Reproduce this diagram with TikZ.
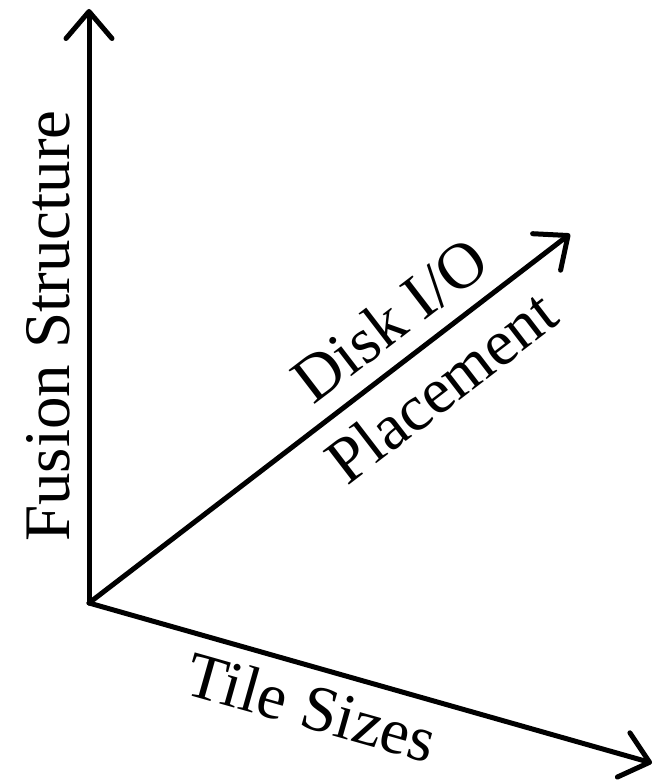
\documentclass[tikz,border=0pt]{standalone}
\usepackage{fontspec}
\setmainfont{Liberation Serif}
\usetikzlibrary{arrows.meta,calc}

\tikzset{
  axis/.style={line width=5pt, line cap=round, -{Straight Barb[length=27pt,width=46pt,round]}},
  lbl/.style={font=\fontsize{65}{70}\selectfont, inner sep=0pt}
}

\begin{document}
\begin{tikzpicture}[x=1pt,y=1pt]
\useasboundingbox (0,0) rectangle (655,780);
% axes
\coordinate (o) at (89,177);
\coordinate (fus) at (89,771);
\coordinate (disk) at (570,546);
\coordinate (tile) at (652,17);
\draw[axis] (o) -- (fus);
\draw[axis] (o) -- (disk);
\draw[axis] (o) -- (tile);
% labels
\coordinate (dm) at ($(o)!0.678!(disk)$);
\coordinate (tm) at ($(o)!0.415!(tile)$);
\node[lbl, rotate=90, anchor=base] (fuslbl) at (69,454) {Fusion Structure};
\node[lbl, rotate=37.5, anchor=base] (disklbl) at ($(dm)!19.7pt!90:(disk)$) {Disk I/O};
\node[lbl, rotate=37.5, anchor=base] (placelbl) at ($(dm)!65pt!-90:(disk)$) {Placement};
\node[lbl, rotate=-15.8, anchor=base] (tilelbl) at ($(tm)!61pt!-90:(tile)$) {Tile Sizes};
\end{tikzpicture}
\end{document}
